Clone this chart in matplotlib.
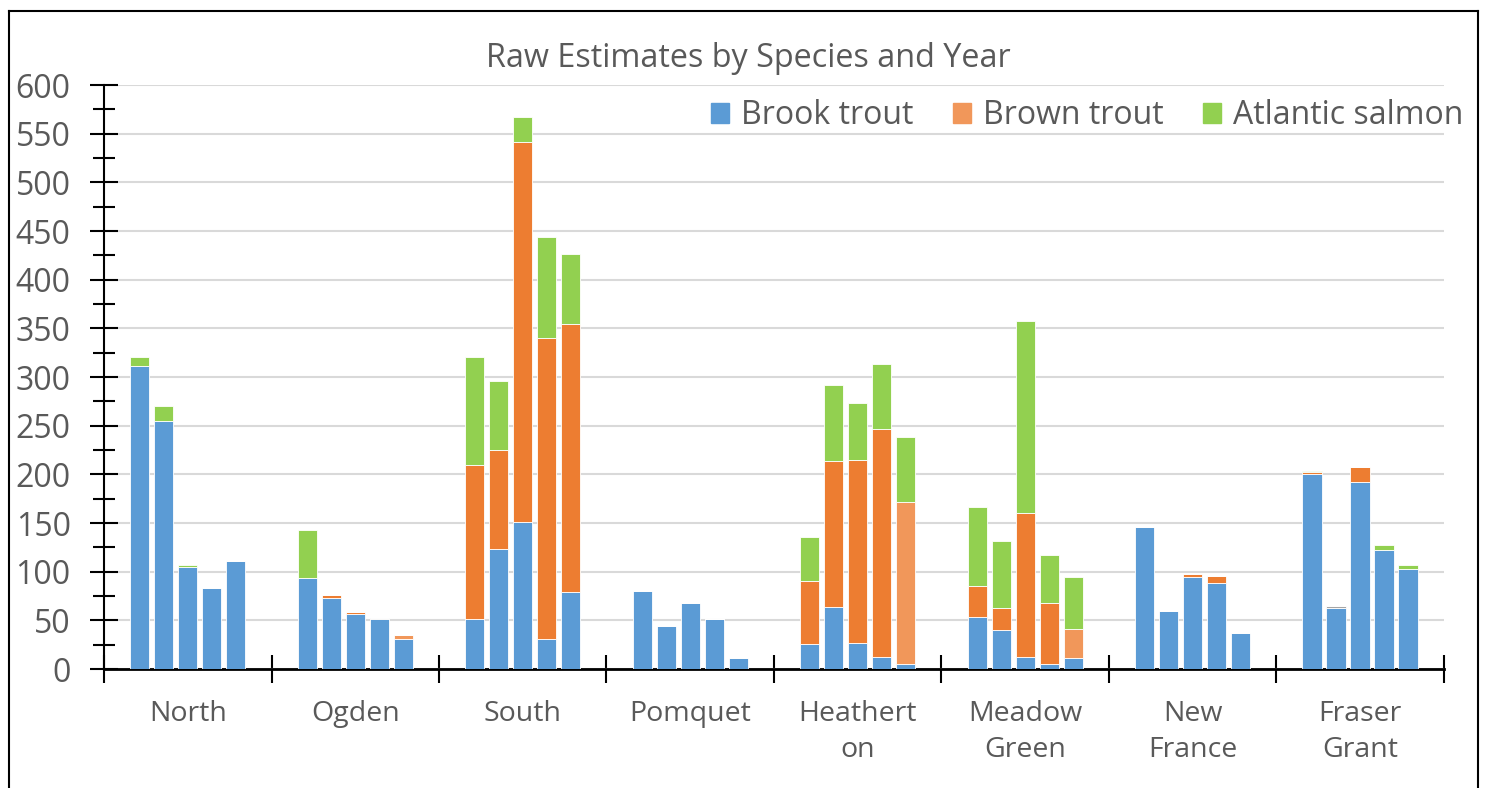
import matplotlib.pyplot as plt
import matplotlib.lines as mlines
import matplotlib.patches as mpatches
import numpy as np

plt.rcParams['font.family'] = ['Open Sans', 'DejaVu Sans']

sites = ["North", "Ogden", "South", "Pomquet", "Heathert\non",
         "Meadow\nGreen", "New\nFrance", "Fraser\nGrant"]
n_years = 5

# raw estimates, 5 sampling years per site
brook = [311, 255, 105, 83.5, 111,
         94, 72.5, 57, 51, 30.5,
         51, 123, 151, 30.5, 79,
         80, 44, 68, 51, 11.5,
         26, 64, 27, 12, 5,
         53.5, 40, 12.5, 5, 11,
         146, 60, 95, 88, 36.5,
         200.5, 63, 192, 122.5, 102.5]
brown = [0, 0, 0, 0, 0,
         0, 4, 2, 0, 0,
         159, 102, 390, 309.5, 275,
         0, 0, 0, 0, 0,
         64, 150, 187.5, 234.5, 0,
         32, 23, 147.5, 63, 0,
         0, 0, 3, 7.5, 0,
         2, 0, 16, 0, 0]
brown_partial = [0, 0, 0, 0, 0,
                 0, 0, 0, 0, 4,
                 0, 0, 0, 0, 0,
                 0, 0, 0, 0, 0,
                 0, 0, 0, 0, 167,
                 0, 0, 0, 0, 30,
                 0, 0, 0, 0, 0,
                 0, 0, 0, 0, 0]
other = [0, 0, 0, 0, 0,
         0, 0, 0, 1.5, 0,
         0, 0, 0, 0, 0,
         0, 0, 0, 0, 0,
         0, 0, 0, 0, 0,
         0, 0, 0, 0, 0,
         0, 0, 0, 0, 0,
         0, 2, 0, 0, 0]
salmon = [10, 15, 2, 0, 0,
          49, 0, 0, 0, 0.5,
          111, 71, 26, 104, 72,
          0, 0, 0, 0, 0,
          45.5, 78, 59, 67, 66.5,
          80.5, 69, 198, 49, 53.5,
          0, 0, 0, 0, 0,
          1, 0, 0, 5, 4.5]

c_blue = "#5B9BD5"
c_orange = "#ED7D31"
c_orange_lt = "#F1975A"
c_gray = "#A5A5A5"
c_green = "#92D050"
txt = "#595959"

fig = plt.figure(figsize=(14.86, 7.88), dpi=100)
ax = fig.add_axes([0.070, 0.151, 0.9017, 0.7411])

pitch = 0.1433
x = np.array([i + (j - 2) * pitch for i in range(len(sites)) for j in range(n_years)])
w = 0.116

bottom = np.zeros(len(x))
for vals, col in [(brook, c_blue), (brown, c_orange), (brown_partial, c_orange_lt),
                  (other, c_gray), (salmon, c_green)]:
    v = np.array(vals, dtype=float)
    ax.bar(x, v, w, bottom=bottom, color=col, edgecolor="white", linewidth=0.6, zorder=3)
    bottom += v

ax.set_xlim(-0.5, len(sites) - 0.5)
ax.set_ylim(0, 600)
ax.set_yticks(np.arange(0, 601, 50))
ax.set_yticks(np.arange(25, 600, 50), minor=True)
ax.yaxis.grid(True, color="#D9D9D9", linewidth=1.5, zorder=0)
ax.set_axisbelow(True)

ax.set_xticks(np.arange(-0.5, len(sites), 1.0))
ax.set_xticklabels([])
ax.set_xticks(np.arange(len(sites)), minor=True)
ax.set_xticklabels(sites, minor=True)
ax.tick_params(axis="x", which="minor", length=0, pad=22, labelsize=20.5, labelcolor=txt)
ax.tick_params(axis="x", which="major", direction="inout", length=20, width=1.5, color="black")
ax.tick_params(axis="y", which="major", direction="inout", length=20, width=1.5,
               labelsize=23, labelcolor=txt, pad=14)
ax.tick_params(axis="y", which="minor", direction="inout", length=16, width=1.5)
for lbl in ax.get_xticklabels(minor=True):
    lbl.set_linespacing(1.42)

for s in ["top", "right"]:
    ax.spines[s].set_visible(False)
ax.spines["left"].set_linewidth(1.5)
ax.spines["bottom"].set_linewidth(2)

fig.text(0.5035, 0.926, "Raw Estimates by Species and Year", ha="center", va="center",
         fontsize=23.3, color=txt)

handles = [mpatches.Patch(color=c_blue, label="Brook trout"),
           mpatches.Patch(color=c_orange_lt, label="Brown trout"),
           mpatches.Patch(color=c_green, label="Atlantic salmon")]
fig.legend(handles=handles, loc="center right", bbox_to_anchor=(0.985, 0.853), ncol=3,
           frameon=False, fontsize=23, labelcolor=txt, handlelength=0.56, handleheight=0.56,
           handletextpad=0.375, columnspacing=1.25, borderpad=0, borderaxespad=0)

# outer chart border
fx0, fx1, fy1 = 9 / 1486, 1478 / 1486, 1 - 11 / 788
for xs, ys in [([fx0, fx0], [-0.05, fy1]), ([fx0, fx1], [fy1, fy1]), ([fx1, fx1], [fy1, -0.05])]:
    fig.add_artist(mlines.Line2D(xs, ys, color="black", linewidth=1.5))

fig.savefig("out.png", dpi=100)
